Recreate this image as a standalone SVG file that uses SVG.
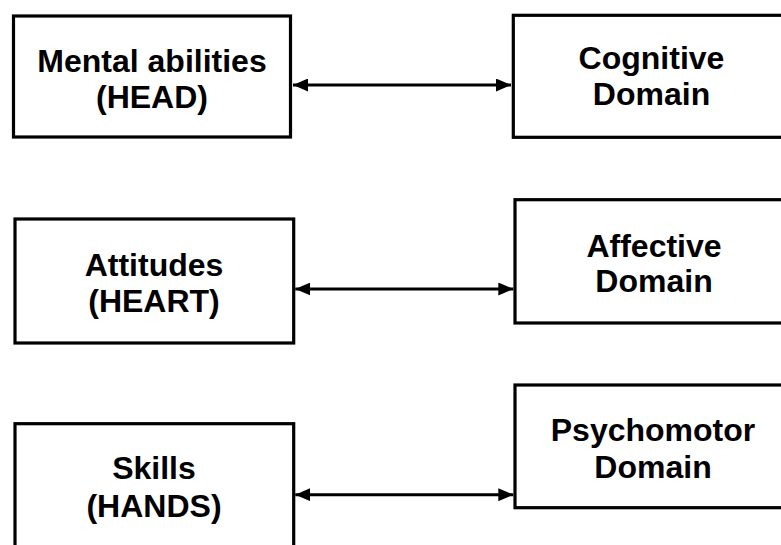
<svg xmlns="http://www.w3.org/2000/svg" width="781" height="545" viewBox="0 0 781 545">
<style>
.box{fill:#fff;stroke:#000;stroke-width:3.2}
.lbl{font-family:"Liberation Sans",Arial,sans-serif;font-weight:bold;font-size:32px;fill:#000;text-anchor:middle}
.con{stroke:#000;stroke-width:3;fill:none;marker-start:url(#ah);marker-end:url(#ah)}
</style>
<defs>
<marker id="ah" markerUnits="userSpaceOnUse" viewBox="0 0 15 13" refX="15" refY="6.5" markerWidth="15" markerHeight="13" orient="auto-start-reverse">
<path d="M0,0 L15,6.5 L0,13 Z" fill="#000"/>
</marker>
</defs>
<rect width="781" height="545" fill="#fff"/>
<g id="connectors">
<line class="con" x1="293" y1="85" x2="511" y2="85"/>
<line class="con" x1="295.3" y1="289" x2="513.3" y2="289"/>
<line class="con" x1="295.3" y1="494.7" x2="513.3" y2="494.7"/>
</g>
<g id="n-head">
<rect class="box" x="13.5" y="16" width="277" height="121"/>
<text class="lbl" x="152" y="72">Mental abilities</text>
<text class="lbl" x="152" y="108">(HEAD)</text>
</g>
<g id="n-cognitive">
<rect class="box" x="513.3" y="15.3" width="300" height="122"/>
<text class="lbl" x="651.5" y="68.5">Cognitive</text>
<text class="lbl" x="651.5" y="105">Domain</text>
</g>
<g id="n-heart">
<rect class="box" x="15" y="219" width="278.7" height="124"/>
<text class="lbl" x="154" y="275.7">Attitudes</text>
<text class="lbl" x="154" y="311.7">(HEART)</text>
</g>
<g id="n-affective">
<rect class="box" x="515" y="199.7" width="300" height="123.3"/>
<text class="lbl" x="654" y="256.7">Affective</text>
<text class="lbl" x="654" y="292.3">Domain</text>
</g>
<g id="n-hands">
<rect class="box" x="15" y="423.7" width="278.7" height="140"/>
<text class="lbl" x="154" y="479.3">Skills</text>
<text class="lbl" x="154" y="516.7">(HANDS)</text>
</g>
<g id="n-psychomotor">
<rect class="box" x="515" y="385" width="300" height="122.7"/>
<text class="lbl" x="653" y="441">Psychomotor</text>
<text class="lbl" x="653" y="477.7">Domain</text>
</g>
</svg>
